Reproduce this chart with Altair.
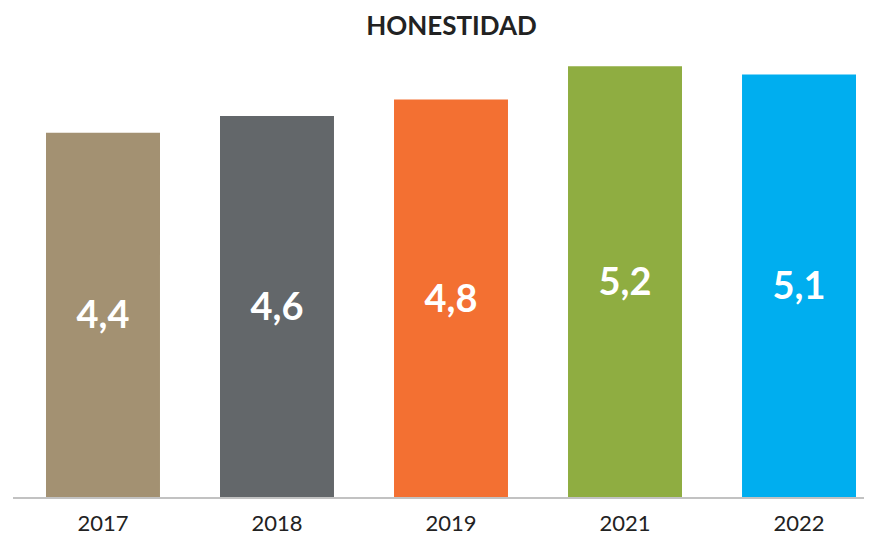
import altair as alt
import pandas as pd

years = ["2017", "2018", "2019", "2021", "2022"]
values = [4.4, 4.6, 4.8, 5.2, 5.1]
colors = ["#A39172", "#63676A", "#F37032", "#8FAD41", "#00AEEF"]

df = pd.DataFrame({"year": years, "value": values})

x = alt.X("year:N", sort=years, title=None,
          scale=alt.Scale(range=[33, 843], paddingInner=0.345, paddingOuter=0),
          axis=alt.Axis(labelAngle=0, ticks=False, labelFont="Lato", labelFontSize=22,
                        labelFontWeight="normal", labelColor="#222222", labelPadding=15,
                        domain=False, grid=False))
y = alt.Y("value:Q", title=None, scale=alt.Scale(domain=[0, 5.3], nice=False, zero=True),
          axis=None)

bars = alt.Chart(df).mark_bar().encode(
    x=x, y=y,
    color=alt.Color("year:N", sort=years, scale=alt.Scale(domain=years, range=colors), legend=None),
)

baseline = alt.Chart(df).mark_rule(color="#c2c2c2", strokeWidth=1.5).encode(
    x=alt.value(0), x2=alt.value(860), y=alt.datum(0),
)

labels = alt.Chart(df).transform_calculate(
    mid="datum.value / 2",
    lab="replace(format(datum.value, '.1f'), '.', ',')",
).mark_text(font="Lato", fontSize=38, fontWeight="bold", color="white", baseline="middle", dy=2).encode(
    x=alt.X("year:N", sort=years),
    y=alt.Y("mid:Q"),
    text="lab:N",
)

chart = alt.layer(bars, baseline, labels).properties(
    width=851, height=440,
    title=alt.TitleParams("HONESTIDAD", font="Lato", fontSize=26, fontWeight="bold",
                          color="#222222", anchor="middle", dx=13, offset=18),
    autosize=alt.AutoSizeParams(type="none"),
    padding={"left": 5, "top": 50, "right": 0, "bottom": 36},
).configure_view(stroke=None)

chart.save("out.html", embed_options={"renderer": "svg", "actions": False})
